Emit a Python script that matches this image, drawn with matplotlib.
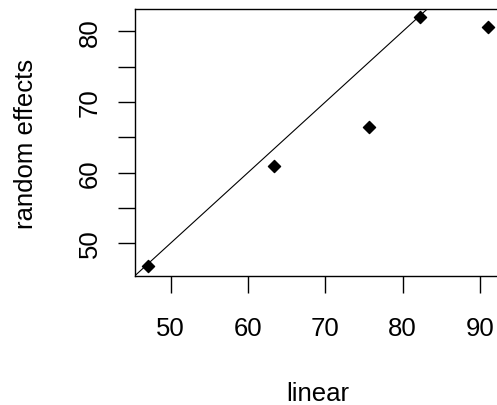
import matplotlib
matplotlib.use("Agg")
import matplotlib.pyplot as plt

linear = [47.0, 63.4, 75.6, 82.3, 91.1]
random_effects = [46.8, 60.9, 66.4, 82.1, 80.7]
x_ticks = [50, 60, 70, 80, 90]
y_ticks = [50, 55, 60, 65, 70, 75, 80]
y_tick_labels = ["50", "", "60", "", "70", "", "80"]

plt.rcParams['font.family'] = ['Liberation Sans', 'DejaVu Sans']
FS = 18.5

W, H = 497, 406
fig = plt.figure(figsize=(W / 100, H / 100), dpi=100)
left, right_px, top, bottom = 135, 502, 9.5, 277
ax = fig.add_axes([left / W, (H - bottom) / H, (right_px - left) / W, (bottom - top) / H])
ax.set_xlim(45.38, 45.38 + (right_px - left) / 7.73)
ax.set_ylim(45.33, 83.26)

ax.plot([40, 100], [40, 100], color='black', lw=0.8)
ax.scatter(linear, random_effects, marker='D', s=38, color='black', zorder=3)

ax.set_xticks(x_ticks)
ax.set_xticklabels([str(t) for t in x_ticks])
ax.set_yticks(y_ticks)
ax.set_yticklabels(y_tick_labels, rotation=90, va='center')
ax.tick_params(axis='both', length=12.5, width=1, labelsize=FS, color='black')
ax.tick_params(axis='x', pad=16)
ax.tick_params(axis='y', pad=11.5)

for s in ax.spines.values():
    s.set_linewidth(1.0)

fig.text(318 / W, 1 - 401 / H, 'linear', ha='center', va='baseline', fontsize=FS)
fig.text(33 / W, 1 - 144 / H, 'random effects', ha='center', va='baseline',
         rotation=90, rotation_mode='anchor', fontsize=FS)

fig.savefig('out.png', dpi=100)
